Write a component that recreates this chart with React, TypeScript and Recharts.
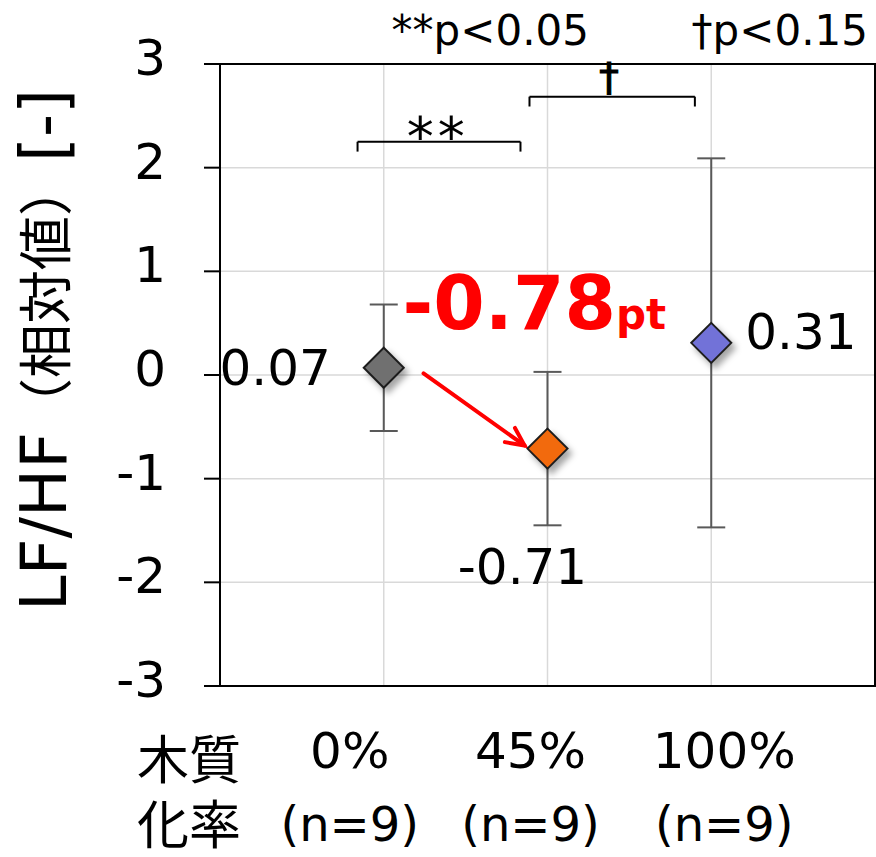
import {
  ComposedChart,
  Scatter,
  ErrorBar,
  Cell,
  XAxis,
  YAxis,
  CartesianGrid,
  ReferenceLine,
  ReferenceDot,
  ReferenceArea,
} from 'recharts';

const CATEGORIES = ['0%', '45%', '100%'];
const GROUP_SIZES = ['(n=9)', '(n=9)', '(n=9)'];
const MEANS = [0.07, -0.71, 0.31];
const ERRORS = [0.61, 0.74, 1.78];
const Y_TICKS = [-3, -2, -1, 0, 1, 2, 3];
const X_TITLE = ['木質', '化率'];
const DIFF_LABEL = '-0.78';

const COLORS = ['#707070', '#F26A10', '#7272D8'];
const FONT = '"DejaVu Sans", "Noto Sans CJK JP", sans-serif';

const rows = CATEGORIES.map((name, i) => ({ x: i + 1, y: MEANS[i], err: ERRORS[i], name }));

// where each value label sits around its marker
const LABEL_PLACE = [
  { anchor: 'end', dx: -53, dy: 17 },
  { anchor: 'middle', dx: -25, dy: 135 },
  { anchor: 'start', dx: 34, dy: 6 },
];
const TICK_NUDGE = [-34, -17, 13];

const Diamond = (p: any) => {
  const { cx, cy, fill, payload } = p;
  const i = payload.x - 1;
  const r = 20;
  const lp = LABEL_PLACE[i];
  return (
    <g>
      <defs>
        <filter id={`shadow${i}`} x="-50%" y="-50%" width="200%" height="200%">
          <feDropShadow dx="4" dy="5" stdDeviation="3" floodColor="#000" floodOpacity="0.35" />
        </filter>
      </defs>
      <polygon
        points={`${cx},${cy - r} ${cx + r},${cy} ${cx},${cy + r} ${cx - r},${cy}`}
        fill={fill}
        stroke="#1f1f1f"
        strokeWidth={2}
        filter={`url(#shadow${i})`}
      />
      <text x={cx + lp.dx} y={cy + lp.dy} textAnchor={lp.anchor as any} fontSize={50} fontFamily={FONT} fill="#000">
        {payload.y.toFixed(2)}
      </text>
    </g>
  );
};

const XTick = (p: any) => {
  const i = p.payload.value - 1;
  const x = p.x + TICK_NUDGE[i];
  return (
    <g>
      <text x={x} y={p.y + 82} textAnchor="middle" fontSize={50} fontFamily={FONT} fill="#000">
        {CATEGORIES[i]}
      </text>
      <text x={x} y={p.y + 155} textAnchor="middle" fontSize={48} fontFamily={FONT} fill="#000">
        {GROUP_SIZES[i]}
      </text>
    </g>
  );
};

const YTick = (p: any) => (
  <text x={p.x} y={p.y + 11} textAnchor="end" fontSize={50} fontFamily={FONT} fill="#000">
    {p.payload.value}
  </text>
);

const Arrow = (p: any) => {
  const { x1, y1, x2, y2 } = p;
  const a = Math.atan2(y2 - y1, x2 - x1);
  const L = 20;
  const h1 = [x2 - L * Math.cos(a - 0.45), y2 - L * Math.sin(a - 0.45)];
  const h2 = [x2 - L * Math.cos(a + 0.45), y2 - L * Math.sin(a + 0.45)];
  return (
    <g stroke="#FF0000" strokeWidth={4} fill="none" strokeLinecap="round">
      <line x1={x1} y1={y1} x2={x2} y2={y2} />
      <polyline points={`${h1[0]},${h1[1]} ${x2},${y2} ${h2[0]},${h2[1]}`} strokeLinejoin="miter" />
    </g>
  );
};

const note = (text: any, size: number, anchor: string, extra: any = {}) => (p: any) => (
  <text x={p.cx} y={p.cy} textAnchor={anchor as any} fontSize={size} fontFamily={FONT} fill="#000" {...extra}>
    {text}
  </text>
);

const seg = (x1: number, y1: number, x2: number, y2: number, k: string) => (
  <ReferenceLine
    key={k}
    segment={[{ x: x1, y: y1 }, { x: x2, y: y2 }]}
    stroke="#000"
    strokeWidth={2}
    ifOverflow="visible"
  />
);

export default function App() {
  return (
    <div style={{ position: 'absolute', left: 0, top: 0, background: '#fff' }}>
      <ComposedChart width={876} height={857} data={rows} margin={{ top: 64, right: 1, bottom: 0, left: 0 }}>
        <CartesianGrid stroke="#d9d9d9" strokeWidth={1.5} />
        <XAxis
          type="number"
          dataKey="x"
          domain={[0, 4]}
          ticks={[1, 2, 3]}
          height={171}
          tickSize={0}
          tickMargin={0}
          tick={<XTick />}
          axisLine={{ stroke: '#000', strokeWidth: 2 }}
          label={{
            content: (lp: any) => {
              const vb = lp.viewBox;
              return (
                <g fontSize={52} fontFamily={FONT} fill="#000">
                  <text x={vb.x - 83} y={vb.y + 93}>{X_TITLE[0]}</text>
                  <text x={vb.x - 83} y={vb.y + 158}>{X_TITLE[1]}</text>
                </g>
              );
            },
          }}
        />
        <YAxis
          type="number"
          domain={[-3, 3]}
          ticks={Y_TICKS}
          width={220}
          tickSize={16}
          tickMargin={38}
          tick={<YTick />}
          tickLine={{ stroke: '#000', strokeWidth: 2 }}
          axisLine={{ stroke: '#000', strokeWidth: 2 }}
          label={{
            content: (lp: any) => {
              const vb = lp.viewBox;
              const cy = vb.y + vb.height / 2 - 25;
              return (
                <text x={66} y={cy} transform={`rotate(-90 66 ${cy})`} textAnchor="middle" fontSize={64} fontFamily={FONT} fill="#000">
                  LF/HF<tspan fontSize={54}>（相対値）</tspan>[-]
                </text>
              );
            },
          }}
        />
        <ReferenceArea x1={0} x2={4} y1={-3} y2={3} fill="none" stroke="#000" strokeWidth={2} ifOverflow="visible" />

        {seg(0.84, 2.25, 1.835, 2.25, 'b1')}
        {seg(0.84, 2.25, 0.84, 2.155, 'b2')}
        {seg(1.835, 2.25, 1.835, 2.155, 'b3')}
        {seg(1.89, 2.685, 2.9, 2.685, 'b4')}
        {seg(1.89, 2.685, 1.89, 2.59, 'b5')}
        {seg(2.9, 2.685, 2.9, 2.59, 'b6')}

        <ReferenceDot x={1.33} y={2.126} r={0} ifOverflow="visible" shape={note('**', 54, 'middle', { letterSpacing: 4 })} />
        <ReferenceDot
          x={2.375}
          y={2.739}
          r={0}
          ifOverflow="visible"
          shape={note('†', 39, 'middle', { stroke: '#000', strokeWidth: 1.2 })}
        />
        <ReferenceDot x={1.048} y={3.187} r={0} ifOverflow="visible" shape={note('**p<0.05', 42, 'start')} />
        <ReferenceDot x={2.88} y={3.187} r={0} ifOverflow="visible" shape={note('†p<0.15', 42, 'start')} />
        <ReferenceDot
          x={1.115}
          y={0.448}
          r={0}
          ifOverflow="visible"
          shape={(p: any) => (
            <text x={p.cx} y={p.cy} fontSize={74} fontWeight="bold" fontFamily={FONT} fill="#FF0000">
              {DIFF_LABEL}
              <tspan fontSize={42}>pt</tspan>
            </text>
          )}
        />
        <ReferenceLine segment={[{ x: 1.243, y: 0.015 }, { x: 1.86, y: -0.68 }]} ifOverflow="visible" shape={Arrow} />

        <Scatter dataKey="y" isAnimationActive={false} shape={Diamond}>
          {rows.map((_, i) => (
            <Cell key={i} fill={COLORS[i]} />
          ))}
          <ErrorBar dataKey="err" direction="y" width={14} stroke="#595959" strokeWidth={2} />
        </Scatter>
      </ComposedChart>
    </div>
  );
}
